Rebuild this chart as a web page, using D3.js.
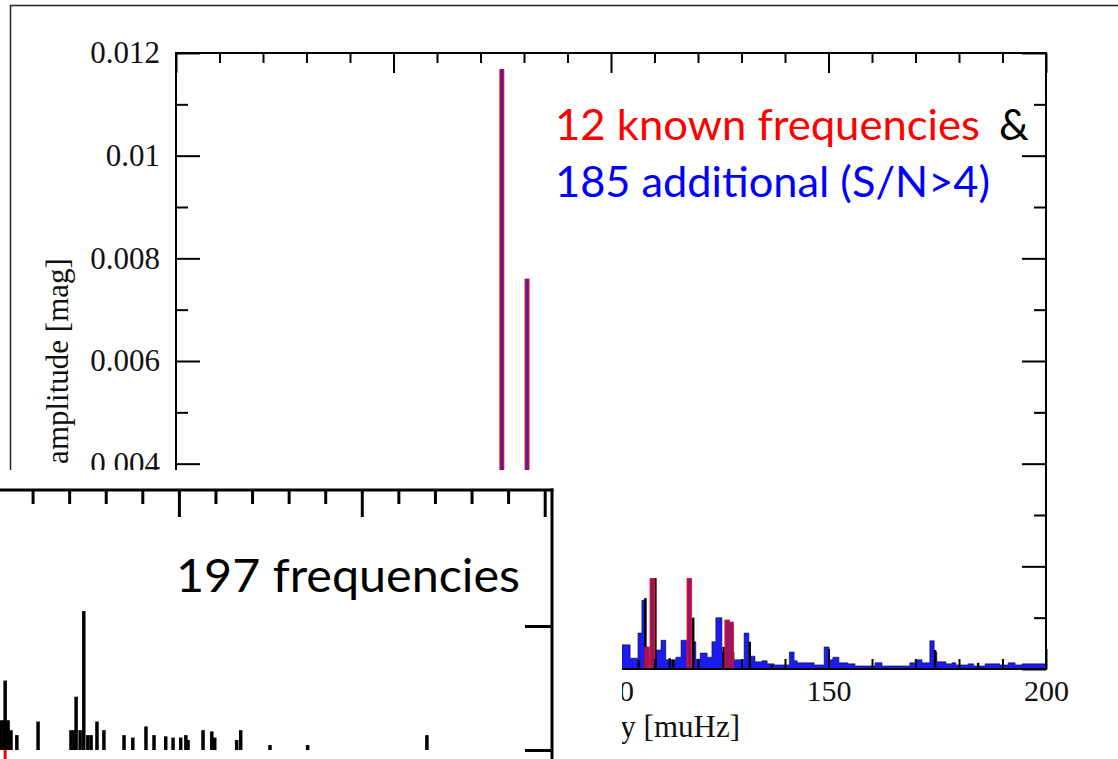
<!DOCTYPE html>
<html><head><meta charset="utf-8">
<script src="https://cdn.jsdelivr.net/npm/d3@7/dist/d3.min.js"></script>
<style>body{margin:0;background:#fff}svg{display:block}</style>
</head><body>
<svg id="c" width="1118" height="759"></svg>
<script>
// ---------- data ----------
// 12 known frequencies (visible ones) [muHz] and amplitudes [mag]
const knownFreq = [74.9, 80.7, 108.3, 109.5, 118.0, 126.7, 127.6];
const knownAmp  = [0.01169, 0.0076, 0.00043, 0.00177, 0.00177, 0.00096, 0.00092];
// additional frequencies (blue), step breakpoints
const addFreq = [102.5,104.4,106.2,107.1,108.0,108.7,110.3,111.5,112.6,114.9,116.1,117.5,118.6,119.5,120.5,122.1,123.2,124.1,125.5,128.3,130.6,131.7,133.1,134.7,135.9,137.5,141.0,142.1,142.8,146.7,149.0,150.1,151.0,152.4,154.5,156.1,160.7,162.3,168.7,169.9,171.5,173.3,174.3,174.9,177.0,178.4,179.3,182.1,183.4,186.0,189.4,191.3,192.9,194.5,200];
const addAmp  = [0.00047,0.00021,0.0007,0.00134,0.00043,0.00027,0.00037,0.00056,0.00018,0.00023,0.00056,0.00027,0.00053,0.00019,0.00031,0.00023,0.00053,0.001,0.00033,0.00018,0.0007,0.00025,0.00014,0.00016,0.0001,0.00008,0.00033,0.00016,0.00012,0.00008,0.00043,0.00018,0.00023,0.00012,0.0001,0.00006,0.00012,0.00006,0.00012,0.00018,0.00012,0.00055,0.00033,0.00014,0.0001,0.00012,0.00008,0.0001,0.00006,0.0001,0.00008,0.00012,0.00008,0.0001,0.0001];
// residual spectrum spikes (black)
const resFreq = [106.4, 107.9, 110.2, 113.5, 114.3, 118.9, 125.9, 127.9, 131.9, 137.0, 174.5, 184.4];
const resAmp  = [0.00018, 0.00138, 0.00177, 0.00021, 0.00018, 0.001, 0.00043, 0.00086, 0.00053, 0.00008, 0.00037, 0.00012];
// axes
const xMajor = [0, 50, 100, 150, 200];
const xMinor = [10,20,30,40,60,70,80,90,110,120,130,140,160,170,180,190];
const yMajor = [0, 0.002, 0.004, 0.006, 0.008, 0.01, 0.012];
const yMinor = [0.001, 0.003, 0.005, 0.007, 0.009, 0.011];
const xLabel = "frequency [muHz]";
const yLabel = "amplitude [mag]";
// inset: 197 frequencies
const insetFreq = [0.14,0.22,0.25,0.33,0.41,0.57,1.15,2.05,2.13,2.19,2.30,2.40,2.51,2.60,2.76,2.95,3.50,3.74,4.10,4.32,4.64,4.84,5.05,5.19,5.25,5.66,5.90,5.98,6.58,6.69,7.49,8.52,11.78];
const insetAmp  = [0.24,0.24,0.56,0.24,0.16,0.12,0.23,0.16,0.16,0.43,0.16,1.12,0.12,0.12,0.23,0.16,0.12,0.10,0.19,0.12,0.11,0.10,0.10,0.12,0.08,0.16,0.15,0.10,0.08,0.16,0.04,0.04,0.12];
const insetKnownFreq = [0.25];
const insetXMajor = [5, 10, 15];
const insetXMinor = [1,2,3,4,6,7,8,9,11,12,13,14];
const insetYMajor = [0, 1];
const legend1 = "12 known frequencies", legendAmp = "&", legend2 = "185 additional (S/N>4)";
const insetText = "197 frequencies";

// ---------- drawing ----------
const svg = d3.select("#c");
const serif = "'Liberation Serif','Times New Roman',serif";

// outer frame of the figure
svg.append("rect").attr("x",10.5).attr("y",5.5).attr("width",1400).attr("height",1000)
  .attr("fill","none").attr("stroke","#222").attr("stroke-width",1.5);

const x = d3.scaleLinear().domain([0,200]).range([176,1046]);
const y = d3.scaleLinear().domain([0,0.012]).range([669,53]);

const g = svg.append("g");

// blue additional frequencies
const area = d3.area().x(d=>x(d[0])).y0(y(0)).y1(d=>y(d[1])).curve(d3.curveStepAfter);
g.append("path").datum(addFreq.map((f,i)=>[f,addAmp[i]]))
  .attr("d",area).attr("fill","#1c1cf0").attr("stroke","#000").attr("stroke-opacity",0.6).attr("stroke-width",0.9);

// black residual spikes
g.selectAll("line.res").data(resFreq.map((f,i)=>[f,resAmp[i]])).join("line")
  .attr("x1",d=>x(d[0])).attr("x2",d=>x(d[0])).attr("y1",y(0)).attr("y2",d=>y(d[1]))
  .attr("stroke","#000").attr("stroke-width",2.5);

// known frequencies: red with blue overlay
const kd = knownFreq.map((f,i)=>[f,knownAmp[i]]);
g.selectAll("line.kr").data(kd).join("line")
  .attr("x1",d=>x(d[0])).attr("x2",d=>x(d[0])).attr("y1",y(0)).attr("y2",d=>y(d[1]))
  .attr("stroke","#ff1010").attr("stroke-width",d=>d[1]>0.005?5:5.5);
g.selectAll("line.kb").data(kd).join("line")
  .attr("x1",d=>x(d[0])).attr("x2",d=>x(d[0])).attr("y1",y(0)).attr("y2",d=>y(d[1]))
  .attr("stroke","#2020c8").attr("stroke-width",d=>d[1]>0.005?3:3.5).attr("stroke-opacity",d=>d[1]>0.005?0.75:0.5);

// axes
function styleAxis(sel, fs){
  sel.select(".domain").remove();
  sel.selectAll(".tick line").attr("stroke","#000").attr("stroke-width",2);
  sel.selectAll("text").attr("font-family",serif).attr("font-size",fs).attr("fill","#111");
}
const ax = svg.append("g");
ax.append("g").attr("transform",`translate(0,${y(0)})`)
  .call(d3.axisBottom(x).tickValues(xMajor).tickSize(-20).tickPadding(11).tickFormat(d3.format("d")))
  .call(s=>styleAxis(s,30));
ax.append("g").attr("transform",`translate(0,${y(0)})`)
  .call(d3.axisBottom(x).tickValues(xMinor).tickSize(-10).tickFormat(""))
  .call(s=>styleAxis(s,30));
ax.append("g").attr("transform",`translate(0,${y(0.012)})`)
  .call(d3.axisTop(x).tickValues(xMajor).tickSize(-20).tickFormat(""))
  .call(s=>styleAxis(s,30));
ax.append("g").attr("transform",`translate(0,${y(0.012)})`)
  .call(d3.axisTop(x).tickValues(xMinor).tickSize(-10).tickFormat(""))
  .call(s=>styleAxis(s,30));
ax.append("g").attr("transform",`translate(${x(0)},0)`)
  .call(d3.axisLeft(y).tickValues(yMajor).tickSize(-24).tickPadding(16).tickFormat(d=>String(+d.toFixed(3))))
  .call(s=>styleAxis(s,31));
ax.append("g").attr("transform",`translate(${x(0)},0)`)
  .call(d3.axisLeft(y).tickValues(yMinor).tickSize(-12).tickFormat(""))
  .call(s=>styleAxis(s,31));
ax.append("g").attr("transform",`translate(${x(200)},0)`)
  .call(d3.axisRight(y).tickValues(yMajor).tickSize(-24).tickFormat(""))
  .call(s=>styleAxis(s,31));
ax.append("g").attr("transform",`translate(${x(200)},0)`)
  .call(d3.axisRight(y).tickValues(yMinor).tickSize(-12).tickFormat(""))
  .call(s=>styleAxis(s,31));
ax.append("rect").attr("x",x(0)).attr("y",y(0.012)).attr("width",x(200)-x(0)).attr("height",y(0)-y(0.012))
  .attr("fill","none").attr("stroke","#000").attr("stroke-width",2);

svg.append("text").attr("x",740).attr("y",737).attr("text-anchor","end")
  .attr("font-family",serif).attr("font-size",31).attr("fill","#111").text(xLabel);
svg.append("text").attr("transform","translate(68,361) rotate(-90)").attr("text-anchor","middle")
  .attr("font-family",serif).attr("font-size",31).attr("fill","#111").text(yLabel);

// legend
const sans = "Lato,'Open Sans',sans-serif";
svg.append("text").attr("x",555).attr("y",140).attr("font-family",sans).attr("font-size",42)
  .attr("fill","#ff0000").attr("textLength",425).attr("lengthAdjust","spacingAndGlyphs").text(legend1);
svg.append("text").attr("x",999).attr("y",140).attr("font-family",sans).attr("font-size",42)
  .attr("fill","#000").text(legendAmp);
svg.append("text").attr("x",555).attr("y",197).attr("font-family",sans).attr("font-size",42)
  .attr("fill","#0000ff").attr("textLength",435).attr("lengthAdjust","spacingAndGlyphs").text(legend2);

// ---------- inset ----------
svg.append("rect").attr("x",0).attr("y",470).attr("width",622).attr("height",300).attr("fill","#fff");
const ix = d3.scaleLinear().domain([0,15.2]).range([-4,552]);
const iy = d3.scaleLinear().domain([0,1]).range([750,626]);
const ig = svg.append("g");
ig.selectAll("line.ik").data(insetKnownFreq).join("line")
  .attr("x1",d=>ix(d)).attr("x2",d=>ix(d)).attr("y1",iy(0.03)).attr("y2",iy(-0.1))
  .attr("stroke","#ff0000").attr("stroke-width",3);
ig.selectAll("line.ib").data(insetFreq.map((f,i)=>[f,insetAmp[i]])).join("line")
  .attr("x1",d=>ix(d[0])).attr("x2",d=>ix(d[0])).attr("y1",iy(0)).attr("y2",d=>iy(d[1]))
  .attr("stroke","#000").attr("stroke-width",3.5);
ig.append("g").attr("transform",`translate(0,490)`)
  .call(d3.axisTop(ix).tickValues(insetXMajor).tickSize(-27).tickFormat(""))
  .call(s=>{s.select(".domain").remove(); s.selectAll(".tick line").attr("stroke","#000").attr("stroke-width",3);});
ig.append("g").attr("transform",`translate(0,490)`)
  .call(d3.axisTop(ix).tickValues(insetXMinor).tickSize(-14).tickFormat(""))
  .call(s=>{s.select(".domain").remove(); s.selectAll(".tick line").attr("stroke","#000").attr("stroke-width",3);});
ig.append("g").attr("transform",`translate(552,0)`)
  .call(d3.axisRight(iy).tickValues(insetYMajor).tickSize(-27).tickFormat(""))
  .call(s=>{s.select(".domain").remove(); s.selectAll(".tick line").attr("stroke","#000").attr("stroke-width",3);});
ig.append("line").attr("x1",0).attr("x2",553.5).attr("y1",490).attr("y2",490).attr("stroke","#000").attr("stroke-width",3);
ig.append("line").attr("x1",552).attr("x2",552).attr("y1",488.5).attr("y2",770).attr("stroke","#000").attr("stroke-width",3);
svg.append("text").attr("x",176).attr("y",592).attr("font-family",sans).attr("font-size",46)
  .attr("fill","#000").attr("textLength",344).attr("lengthAdjust","spacingAndGlyphs").text(insetText);
</script>
</body></html>
